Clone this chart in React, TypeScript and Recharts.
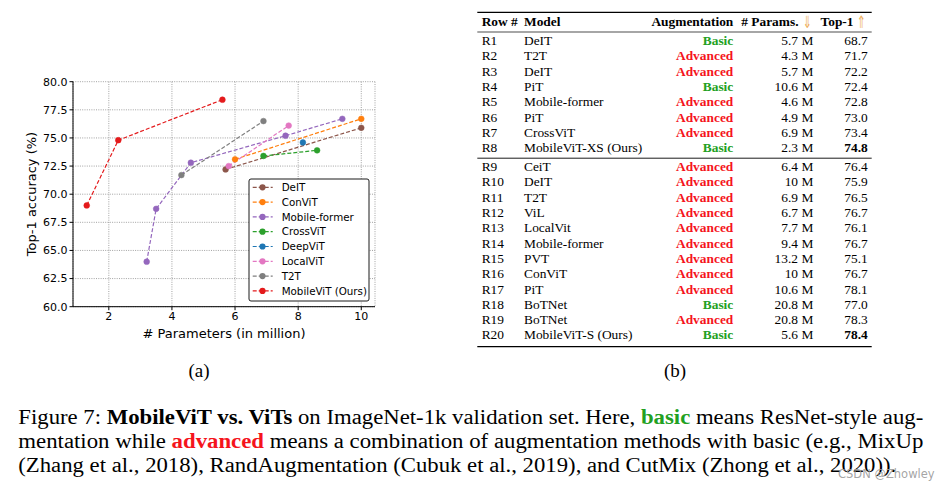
import { LineChart, Line, XAxis, YAxis, CartesianGrid } from 'recharts';

// chart (a): params (M) vs top-1 accuracy, one pair of arrays per model family
const seriesNames = ['DeIT', 'ConViT', 'Mobile-former', 'CrossViT', 'DeepViT', 'LocalViT', 'T2T', 'MobileViT (Ours)'];
const seriesColors = ['#8c564b', '#ff7f0e', '#9467bd', '#2ca02c', '#1f77b4', '#e377c2', '#7f7f7f', '#e41a1c'];

const deitParams = [5.7, 10];
const deitTop1 = [72.2, 75.9];
const convitParams = [6.0, 10];
const convitTop1 = [73.1, 76.7];
const mobileFormerParams = [3.2, 3.5, 4.6, 7.6, 9.4];
const mobileFormerTop1 = [64.0, 68.7, 72.8, 75.2, 76.7];
const crossvitParams = [6.9, 8.6];
const crossvitTop1 = [73.4, 73.9];
const deepvitParams = [8.15];
const deepvitTop1 = [74.6];
const localvitParams = [5.8, 7.7];
const localvitTop1 = [72.5, 76.1];
const t2tParams = [4.3, 6.9];
const t2tTop1 = [71.7, 76.5];
const mobilevitParams = [1.3, 2.3, 5.6];
const mobilevitTop1 = [69.0, 74.8, 78.4];

const seriesParams = [deitParams, convitParams, mobileFormerParams, crossvitParams, deepvitParams, localvitParams, t2tParams, mobilevitParams];
const seriesTop1 = [deitTop1, convitTop1, mobileFormerTop1, crossvitTop1, deepvitTop1, localvitTop1, t2tTop1, mobilevitTop1];

const xTicks = [2, 4, 6, 8, 10];
const yTicks = [60, 62.5, 65, 67.5, 70, 72.5, 75, 77.5, 80];

// table (b)
const rowIds = ['R1', 'R2', 'R3', 'R4', 'R5', 'R6', 'R7', 'R8', 'R9', 'R10', 'R11', 'R12', 'R13', 'R14', 'R15', 'R16', 'R17', 'R18', 'R19', 'R20'];
const rowModels = ['DeIT', 'T2T', 'DeIT', 'PiT', 'Mobile-former', 'PiT', 'CrossViT', 'MobileViT-XS (Ours)', 'CeiT', 'DeIT', 'T2T', 'ViL', 'LocalVit', 'Mobile-former', 'PVT', 'ConViT', 'PiT', 'BoTNet', 'BoTNet', 'MobileViT-S (Ours)'];
const rowAug = ['Basic', 'Advanced', 'Advanced', 'Basic', 'Advanced', 'Advanced', 'Advanced', 'Basic', 'Advanced', 'Advanced', 'Advanced', 'Advanced', 'Advanced', 'Advanced', 'Advanced', 'Advanced', 'Advanced', 'Basic', 'Advanced', 'Basic'];
const rowParams = ['5.7 M', '4.3 M', '5.7 M', '10.6 M', '4.6 M', '4.9 M', '6.9 M', '2.3 M', '6.4 M', '10 M', '6.9 M', '6.7 M', '7.7 M', '9.4 M', '13.2 M', '10 M', '10.6 M', '20.8 M', '20.8 M', '5.6 M'];
const rowTop1 = ['68.7', '71.7', '72.2', '72.4', '72.8', '73.0', '73.4', '74.8', '76.4', '75.9', '76.5', '76.7', '76.1', '76.7', '75.1', '76.7', '78.1', '77.0', '78.3', '78.4'];

const GREEN = '#22a022';
const RED = '#f5141c';
const ARROW = '#eeb060';
const SERIF = '"Liberation Serif", "Times New Roman", serif';
const SANS = '"DejaVu Sans", sans-serif';

function rowY(i: number) {
  // centre of each row; a rule separates R8 and R9
  return i < 8 ? 40.7 + i * 15.3 : 166.7 + (i - 8) * 15.3;
}

export default function App() {
  const series = seriesNames.map((name, i) => ({
    name,
    color: seriesColors[i],
    data: seriesParams[i].map((x, j) => ({ x, y: seriesTop1[i][j] })),
  }));

  return (
    <div style={{ position: 'absolute', left: 0, top: 0, width: 948, height: 490, background: '#fff', overflow: 'hidden' }}>
      <div style={{ position: 'absolute', left: 0, top: 0 }}>
        <LineChart width={390} height={350} margin={{ top: 81.7, right: 15, bottom: 13.3, left: 13 }}>
          <CartesianGrid stroke="#8a8a8a" strokeDasharray="1 1.3" strokeWidth={0.8} />
          <XAxis
            type="number"
            dataKey="x"
            domain={[0.865, 10.435]}
            ticks={xTicks}
            interval={0}
            allowDataOverflow
            height={30}
            tickSize={3.5}
            tickMargin={2}
            tick={{ fontSize: 11, fill: '#000', fontFamily: SANS }}
            axisLine={{ stroke: '#000', strokeWidth: 1 }}
            tickLine={{ stroke: '#000' }}
          />
          <YAxis
            type="number"
            domain={[60, 80]}
            ticks={yTicks}
            interval={0}
            allowDataOverflow
            width={60}
            tickSize={3.5}
            tickMargin={2}
            tickFormatter={(v: number) => v.toFixed(1)}
            tick={{ fontSize: 11, fill: '#000', fontFamily: SANS }}
            axisLine={{ stroke: '#000', strokeWidth: 1 }}
            tickLine={{ stroke: '#000' }}
          />
          {series.map((s) => (
            <Line
              key={s.name}
              name={s.name}
              data={s.data}
              dataKey="y"
              type="linear"
              stroke={s.color}
              strokeWidth={1.2}
              strokeDasharray="4 2"
              dot={{ r: 2.9, fill: s.color, stroke: s.color, strokeWidth: 0.5, strokeDasharray: '' }}
              activeDot={false}
              isAnimationActive={false}
            />
          ))}
        </LineChart>
      </div>

      <svg width={948} height={490} style={{ position: 'absolute', left: 0, top: 0 }}>
        {/* axis labels */}
        <text x={224} y={333} textAnchor="middle" dominantBaseline="central" fontSize={13} fontFamily={SANS} fill="#000">
          # Parameters (in million)
        </text>
        <text
          x={31}
          y={194}
          textAnchor="middle"
          dominantBaseline="central"
          fontSize={13}
          fontFamily={SANS}
          fill="#000"
          transform="rotate(-90 31 194)"
        >
          Top-1 accuracy (%)
        </text>

        {/* legend */}
        <rect x={249} y={179} width={120} height={122} rx={2} fill="#fff" stroke="#000" strokeWidth={0.9} />
        {series.map((s, i) => {
          const y = 187.3 + i * 14.8;
          return (
            <g key={s.name}>
              <line x1={252.7} x2={272.7} y1={y} y2={y} stroke={s.color} strokeWidth={1.2} strokeDasharray="4 2" />
              <circle cx={262.5} cy={y} r={3.1} fill={s.color} />
              <text x={281.7} y={y + 3.7} fontSize={10.3} fontFamily={SANS} fill="#000">
                {s.name}
              </text>
            </g>
          );
        })}

        {/* table */}
        <g fontFamily={SERIF} fontSize={13.4} fill="#000">
          <line x1={477.3} x2={871.7} y1={12.3} y2={12.3} stroke="#000" strokeWidth={1.2} />
          <line x1={477.3} x2={871.7} y1={32} y2={32} stroke="#000" strokeWidth={0.7} />
          <line x1={477.3} x2={871.7} y1={158.2} y2={158.2} stroke="#000" strokeWidth={0.9} />
          <line x1={477.3} x2={871.7} y1={346.7} y2={346.7} stroke="#000" strokeWidth={1.2} />
          <g fontWeight="bold">
            <text x={481.7} y={26.1}>Row #</text>
            <text x={524} y={26.1}>Model</text>
            <text x={733.3} y={26.1} textAnchor="end">Augmentation</text>
            <text x={798.5} y={26.1} textAnchor="end"># Params.</text>
            <text x={853.5} y={26.1} textAnchor="end">Top-1</text>
          </g>
          <text transform="translate(807.5 27.6) scale(0.62 1)" textAnchor="middle" fontFamily={SANS} fontSize={17} fill={ARROW}>⇓</text>
          <text transform="translate(861.5 27.6) scale(0.62 1)" textAnchor="middle" fontFamily={SANS} fontSize={17} fill={ARROW}>⇑</text>
          {rowIds.map((id, i) => {
            const y = rowY(i) + 4.4;
            const ours = rowModels[i].includes('(Ours)');
            return (
              <g key={id}>
                <text x={481.7} y={y}>{id}</text>
                <text x={524} y={y}>{rowModels[i]}</text>
                <text x={733.3} y={y} textAnchor="end" fontWeight="bold" fill={rowAug[i] === 'Basic' ? GREEN : RED}>
                  {rowAug[i]}
                </text>
                <text x={813.3} y={y} textAnchor="end">{rowParams[i]}</text>
                <text x={867.7} y={y} textAnchor="end" fontWeight={ours ? 'bold' : 'normal'}>
                  {rowTop1[i]}
                </text>
              </g>
            );
          })}
        </g>

        {/* sub-captions */}
        <text x={199} y={377} textAnchor="middle" fontFamily={SERIF} fontSize={19} fill="#000">(a)</text>
        <text x={675} y={377} textAnchor="middle" fontFamily={SERIF} fontSize={19} fill="#000">(b)</text>

        {/* figure caption */}
        <g fontFamily={SERIF} fontSize={20.5} fill="#000">
          <text x={18.3} y={423.5} textLength={905} lengthAdjust="spacingAndGlyphs">
            Figure 7: <tspan fontWeight="bold">MobileViT vs. ViTs</tspan> on ImageNet-1k validation set. Here,{' '}
            <tspan fontWeight="bold" fill={GREEN}>basic</tspan> means ResNet-style aug-
          </text>
          <text x={18.3} y={447.7} textLength={905} lengthAdjust="spacingAndGlyphs">
            mentation while <tspan fontWeight="bold" fill={RED}>advanced</tspan> means a combination of augmentation methods with basic (e.g., MixUp
          </text>
          <text x={18.3} y={471.9} textLength={878} lengthAdjust="spacingAndGlyphs">
            (Zhang et al., 2018), RandAugmentation (Cubuk et al., 2019), and CutMix (Zhong et al., 2020)).
          </text>
        </g>

        {/* watermark */}
        <text x={838} y={478} fontFamily={SANS} fontSize={11.5} fill="#9a9a9a" fillOpacity={0.9}>
          CSDN @Zhowley
        </text>
      </svg>
    </div>
  );
}
